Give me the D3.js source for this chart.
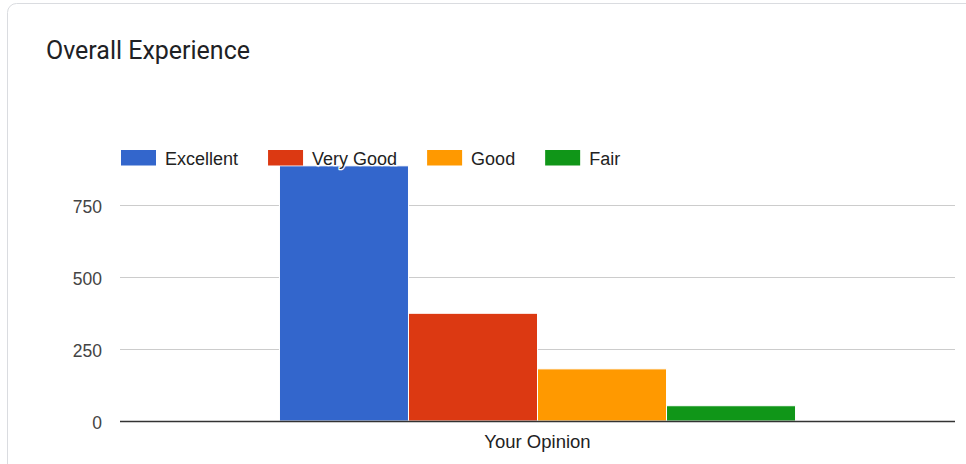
<!DOCTYPE html>
<html>
<head>
<meta charset="utf-8">
<script src="https://cdn.jsdelivr.net/npm/d3@7"></script>
<style>
  html, body { margin: 0; padding: 0; background: #fff; }
  svg { display: block; }
</style>
</head>
<body>
<div class="chart"></div>
<script>
const width = 966;
const height = 464;

const title = "Overall Experience";
const category = "Your Opinion";
const seriesNames = ["Excellent", "Very Good", "Good", "Fair"];
const seriesValues = [886, 374, 181, 53];
const seriesColors = ["#3366cc", "#dc3912", "#ff9900", "#109618"];
const yTicks = [0, 250, 500, 750];

const chartArea = { left: 120, right: 955, top: 133, bottom: 421 };
const labelFont = "'Liberation Sans', Arial, sans-serif";

const svg = d3.select(".chart")
  .append("svg")
    .attr("width", width)
    .attr("height", height);

// card outline
svg.append("rect")
  .attr("x", 7.5)
  .attr("y", 3.5)
  .attr("width", width + 20)
  .attr("height", height + 20)
  .attr("rx", 9)
  .attr("fill", "#fff")
  .attr("stroke", "#dadce0");

// title
const titleText = svg.append("text")
  .attr("x", 46)
  .attr("y", 59)
  .attr("font-family", "Roboto, 'Open Sans', sans-serif")
  .attr("font-size", 23)
  .attr("fill", "#202124")
  .text(title);
const tw = titleText.node().getComputedTextLength();
titleText.attr("font-size", 23 * 204 / tw);

// scales
const y = d3.scaleLinear()
  .domain([0, 1000])
  .range([chartArea.bottom, chartArea.top]);

const x0 = d3.scaleBand()
  .domain([category])
  .range([chartArea.left, chartArea.right])
  .paddingOuter(0.309);

const x1 = d3.scaleBand()
  .domain(seriesNames)
  .range([0, x0.bandwidth()]);

// gridlines
svg.append("g")
  .selectAll("line")
  .data(yTicks.filter((t) => t !== 0))
  .enter()
  .append("line")
    .attr("x1", chartArea.left)
    .attr("x2", chartArea.right)
    .attr("y1", (d) => y(d) + 0.5)
    .attr("y2", (d) => y(d) + 0.5)
    .attr("stroke", "#cccccc")
    .attr("stroke-width", 1.2);

// tick labels
svg.append("g")
  .selectAll("text")
  .data(yTicks)
  .enter()
  .append("text")
    .attr("x", 102)
    .attr("y", (d) => y(d) + 7.5)
    .attr("text-anchor", "end")
    .attr("font-family", labelFont)
    .attr("font-size", 17.5)
    .attr("fill", "#444444")
    .text((d) => d);

// bars
const bars = seriesNames.map((name, i) => ({ name, value: seriesValues[i], color: seriesColors[i] }));

svg.append("g")
  .attr("transform", `translate(${x0(category)},0)`)
  .selectAll("rect")
  .data(bars)
  .enter()
  .append("rect")
    .attr("x", (d) => x1(d.name))
    .attr("y", (d) => y(d.value))
    .attr("width", x1.bandwidth())
    .attr("height", (d) => y(0) - y(d.value))
    .attr("fill", (d) => d.color)
    .attr("stroke", "#fff")
    .attr("stroke-width", 1);

// baseline
svg.append("line")
  .attr("x1", chartArea.left)
  .attr("x2", chartArea.right)
  .attr("y1", y(0) + 0.5)
  .attr("y2", y(0) + 0.5)
  .attr("stroke", "#333333")
  .attr("stroke-width", 1.5);

// x axis label
svg.append("text")
  .attr("x", x0(category) + x0.bandwidth() / 2)
  .attr("y", 447.5)
  .attr("text-anchor", "middle")
  .attr("font-family", labelFont)
  .attr("font-size", 18.5)
  .attr("fill", "#222222")
  .text(category);

// legend
const legend = svg.append("g");
let lx = 121;
bars.forEach((d) => {
  legend.append("rect")
    .attr("x", lx)
    .attr("y", 150)
    .attr("width", 35)
    .attr("height", 15.5)
    .attr("fill", d.color);
  const t = legend.append("text")
    .attr("x", lx + 44)
    .attr("y", 164.5)
    .attr("font-family", labelFont)
    .attr("font-size", 18)
    .attr("fill", "#222222")
    .attr("stroke", "#fff")
    .attr("stroke-width", 2.5)
    .attr("paint-order", "stroke")
    .text(d.name);
  lx += 44 + t.node().getComputedTextLength() + 30;
});
</script>
</body>
</html>
